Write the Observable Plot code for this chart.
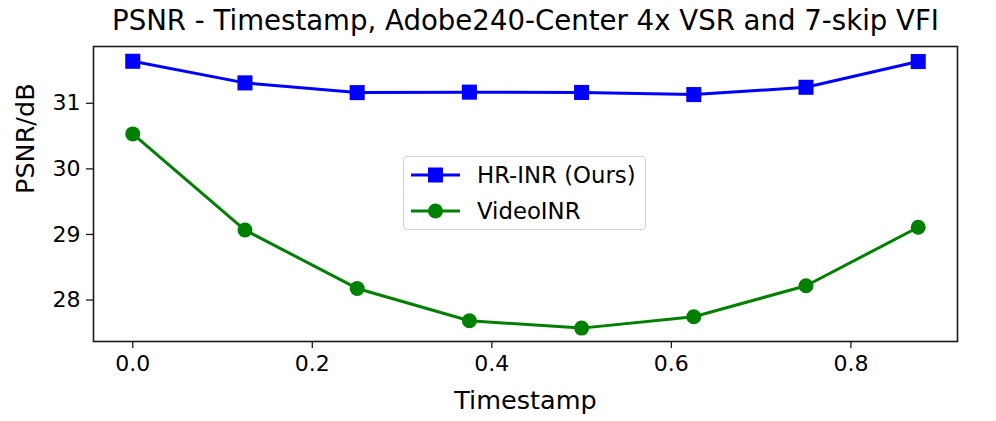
<!DOCTYPE html>
<html>
<head>
<meta charset="utf-8">
<script src="https://cdn.jsdelivr.net/npm/d3@7"></script>
<script src="https://cdn.jsdelivr.net/npm/@observablehq/plot@0.6"></script>
<style>
  html, body { margin: 0; padding: 0; background: #fff; }
  #wrap { position: relative; width: 996px; height: 421px; font-family: "DejaVu Sans", sans-serif; }
  #legend { position: absolute; left: 403px; top: 156px; width: 243px; height: 74px;
    border: 1.3px solid #d0d0d0; border-radius: 4px; background: rgba(255,255,255,0.8); box-sizing: border-box; }
  .row { position: absolute; left: 7px; height: 30px; display: flex; align-items: center; }
  .row span { font-size: 22.8px; color: #000; margin-left: 17px; white-space: nowrap; }
</style>
</head>
<body>
<div id="wrap"></div>
<script>
const timestamps = [0, 0.125, 0.25, 0.375, 0.5, 0.625, 0.75, 0.875];
const hrinr = [31.641, 31.311, 31.163, 31.17, 31.165, 31.133, 31.244, 31.637];
const videoinr = [30.533, 29.067, 28.177, 27.684, 27.572, 27.745, 28.218, 29.11];
const seriesNames = ["HR-INR (Ours)", "VideoINR"];
const seriesColors = ["#0000ff", "#008000"];
const xTicks = [0, 0.2, 0.4, 0.6, 0.8];
const yTicks = [28, 29, 30, 31];
const titleText = "PSNR - Timestamp, Adobe240-Center 4x VSR and 7-skip VFI";
const xLabel = "Timestamp";
const yLabel = "PSNR/dB";

const rowsA = timestamps.map((t, i) => ({t, v: hrinr[i]}));
const rowsB = timestamps.map((t, i) => ({t, v: videoinr[i]}));

const font = "DejaVu Sans, sans-serif";
const chart = Plot.plot({
  width: 996, height: 421,
  marginLeft: 93, marginRight: 39, marginTop: 46, marginBottom: 80,
  style: {fontFamily: font, color: "#000", background: "#fff"},
  x: {domain: [-0.04375, 0.91875]},
  y: {domain: [27.368, 31.866]},
  marks: [
    Plot.frame({stroke: "#1a1a1a", strokeWidth: 1.6}),
    Plot.axisX({ticks: xTicks, tickFormat: d3.format(".1f"), tickSize: 7, tickPadding: 7, fontSize: 22, label: null, stroke: "#1a1a1a", strokeWidth: 1.3}),
    Plot.axisY({ticks: yTicks, tickFormat: d3.format("d"), tickSize: 7, tickPadding: 6, fontSize: 22, label: null, stroke: "#1a1a1a", strokeWidth: 1.3}),
    Plot.line(rowsA, {x: "t", y: "v", stroke: seriesColors[0], strokeWidth: 3}),
    Plot.dot(rowsA, {x: "t", y: "v", symbol: "square", r: 8.5, fill: seriesColors[0], stroke: "none"}),
    Plot.line(rowsB, {x: "t", y: "v", stroke: seriesColors[1], strokeWidth: 3}),
    Plot.dot(rowsB, {x: "t", y: "v", symbol: "circle", r: 7.5, fill: seriesColors[1], stroke: "none"}),
    Plot.text([titleText], {frameAnchor: "top", dy: -25.5, fontSize: 27.6, lineAnchor: "middle", fill: "#000"}),
    Plot.text([xLabel], {frameAnchor: "bottom", dy: 59, fontSize: 25.5, lineAnchor: "middle", fill: "#000"}),
    Plot.text([yLabel], {frameAnchor: "left", dx: -68, rotate: -90, fontSize: 25.5, lineAnchor: "middle", fill: "#000"})
  ]
});
const wrap = document.getElementById("wrap");
wrap.appendChild(chart);

const legend = document.createElement("div");
legend.id = "legend";
const markers = [
  '<rect x="17" y="7.5" width="15" height="15" fill="COLOR"/>',
  '<circle cx="24.5" cy="15" r="7.5" fill="COLOR"/>'
];
seriesNames.forEach((name, i) => {
  const row = document.createElement("div");
  row.className = "row";
  row.style.top = (3 + i * 36) + "px";
  row.innerHTML = `<svg width="49" height="30"><line x1="0" x2="49" y1="15" y2="15" stroke="${seriesColors[i]}" stroke-width="3"/>${markers[i].replace("COLOR", seriesColors[i])}</svg><span>${name}</span>`;
  legend.appendChild(row);
});
wrap.appendChild(legend);
</script>
</body>
</html>
